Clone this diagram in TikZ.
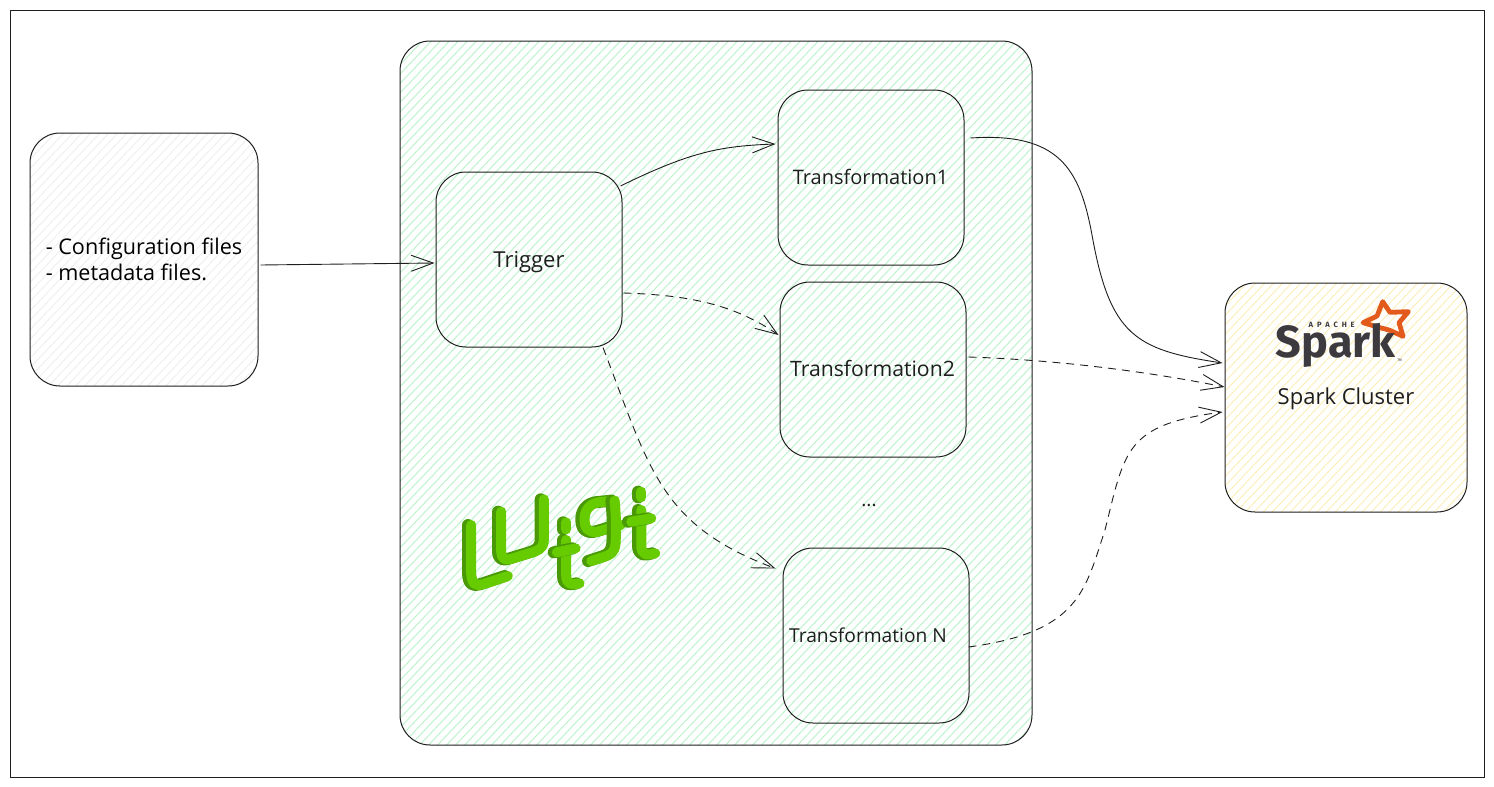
\documentclass[tikz,border=0pt]{standalone}
\usepackage{fontspec}
\setmainfont{Open Sans}
\newfontfamily\logofont{Fira Sans}
\usetikzlibrary{arrows.meta}
\definecolor{ink}{HTML}{1E1E1E}
\definecolor{hatchgreen}{HTML}{C2F3D2}
\definecolor{hatchgrey}{HTML}{F0F0F0}
\definecolor{hatchyellow}{HTML}{FCF0C0}
\definecolor{pipelight}{HTML}{66CC00}
\definecolor{pipedark}{HTML}{4A9A08}
\definecolor{sparkgrey}{HTML}{3C3A3E}
\definecolor{sparkorange}{HTML}{E25A1C}
\tikzset{
  box/.style={draw=ink,line width=.5pt,rounded corners=15pt,inner sep=0pt},
  hatched/.style n args={3}{path picture={\foreach \hi in {0,...,#3}{\draw[#1,line width=.55pt] ({#2+9*\hi},-400) -- ({#2+9*\hi-760},400);}}},
  txt/.style={inner sep=0pt,text=ink,font=\fontsize{#1}{13}\selectfont},
  txt/.default=9.6,
  flow/.style={draw=ink,line width=.45pt,-{Straight Barb[length=11pt,width=8pt,line width=.45pt]}},
  flowdash/.style={flow,dash pattern=on 4pt off 3pt},
  pipeD/.style={draw=pipedark,line width=6pt,line cap=round,line join=round},
  pipeL/.style={draw=pipelight,line width=5pt,line cap=round,line join=round},
}
\newcommand{\pipe}[1]{\draw[pipeD,xshift=-1] #1; \draw[pipeL,xshift=.6] #1;}
\begin{document}
\begin{tikzpicture}[x=.5pt,y=-.5pt]
\useasboundingbox (0,0) rectangle (1494,787);
\node[draw=ink,line width=.5pt,inner sep=0pt,minimum width=737pt,minimum height=383.5pt] (frame) at (747,393.5) {};
% boxes
\node[box,hatched={hatchgrey}{-120}{110},align=left,minimum width=114pt,minimum height=126.5pt,font=\fontsize{10.8}{13}\selectfont] (config) at (144,259.5) {- Configuration files\\- metadata files.};
\node[box,hatched={hatchgreen}{-320}{160},minimum width=316pt,minimum height=352pt] (luigi) at (716,393) {};
\node[box,hatched={hatchyellow}{-125}{115},minimum width=121pt,minimum height=114.5pt] (spark) at (1346,397.5) {};
\node[box,minimum width=93pt,minimum height=87.5pt] (trigger) at (529,259.5) {};
\node[box,minimum width=93pt,minimum height=87.5pt] (t1) at (871,177.5) {};
\node[box,minimum width=93pt,minimum height=87.5pt] (t2) at (873,369.5) {};
\node[box,minimum width=93pt,minimum height=87.5pt] (tn) at (876,635.5) {};
\node[txt=11] (triggerlabel) at (529,262) {Trigger};
\node[txt=10] (t1label) at (870.5,177) {Transformation1};
\node[txt=10.6] (t2label) at (872.5,368) {Transformation2};
\node[txt] (tnlabel) at (868,635) {Transformation N};
\node[txt] (dots) at (869,505) {...};
\node[txt=11] (sparklabel) at (1346,399) {Spark Cluster};
% connectors
\draw[flow] ([shift={(2,5.5)}]config.east) -- ([shift={(-1,3.5)}]trigger.west);
\draw[flow] ([shift={(-2,-73.5)}]trigger.east) .. controls (690,152) and (720,146) .. ([shift={(-2,-33.5)}]t1.west);
\draw[flowdash] ([shift={(1,33.5)}]trigger.east) .. controls (690,295) and (735,305) .. ([shift={(-1,-34.5)}]t2.west);
\draw[flowdash] ([shift={(74,0)}]trigger.south) .. controls (650,470) and (660,525) .. ([shift={(-7,-67)}]tn.west) ;
\draw[flow] ([shift={(6,-39.5)}]t1.east) .. controls (1060,132) and (1080,170) .. (1092,235) .. controls (1110,335) and (1135,350) .. ([shift={(-2,-34.5)}]spark.west);
\draw[flowdash] ([shift={(2,-12.5)}]t2.east) .. controls (1060,360) and (1150,372) .. ([shift={(0,-10.5)}]spark.west);
\draw[flowdash] ([shift={(-1,11.5)}]tn.east) .. controls (1080,632) and (1085,590) .. (1105,530) .. controls (1125,450) and (1125,425) .. ([shift={(-2,14.5)}]spark.west);
% Luigi logo, in the coordinates of a 3x crop
\begin{scope}[shift={(440,490)},x=.1667pt,y=-.1667pt]
\pipe{(90,105) -- (90,250) .. controls (92,285) and (105,288) .. (125,283) -- (200,258)}
\pipe{(180,65) -- (180,185) .. controls (182,210) and (195,212) .. (215,205) -- (280,185) .. controls (305,175) and (308,165) .. (308,145) -- (308,28)}
\pipe{(375,97) -- (375,118)}
\pipe{(375,150) -- (375,255) .. controls (375,285) and (390,285) .. (415,280)}
\pipe{(347,187) -- (403,175)}
\pipe{(520,32) -- (470,37) .. controls (435,45) and (425,75) .. (432,105) .. controls (438,128) and (460,130) .. (480,122) -- (538,105)}
\pipe{(520,32) .. controls (525,80) and (525,120) .. (523,160) .. controls (520,190) and (505,195) .. (490,200) -- (450,213)}
\pipe{(600,5) -- (600,22)}
\pipe{(600,60) -- (600,165) .. controls (600,195) and (615,197) .. (642,190)}
\pipe{(570,95) -- (630,85)}
\end{scope}
% Spark logo
\begin{scope}[shift={(1225,285)},x=.1667pt,y=-.1667pt]
\draw[sparkorange,line width=2.4pt,line join=round] (473,50) -- (495,82) -- (550,80) -- (522,113) -- (534,154) -- (492,135) -- (465,128) -- (414,113) -- (456,93) -- cycle;
\node[inner sep=0pt,text=sparkgrey,font=\logofont\bfseries\fontsize{22.5}{24}\selectfont] (sparkword) at (332,181) {Spark};
\node[inner sep=0pt,text=sparkgrey,font=\logofont\bfseries\fontsize{3.8}{4}\selectfont] (apache) at (320,121) {A\hspace{1.9pt}P\hspace{1.9pt}A\hspace{1.9pt}C\hspace{1.9pt}H\hspace{1.9pt}E};
\node[inner sep=0pt,text=sparkgrey,font=\logofont\fontsize{1.8}{2}\selectfont] (tm) at (524,226) {TM};
\end{scope}
\end{tikzpicture}
\end{document}
